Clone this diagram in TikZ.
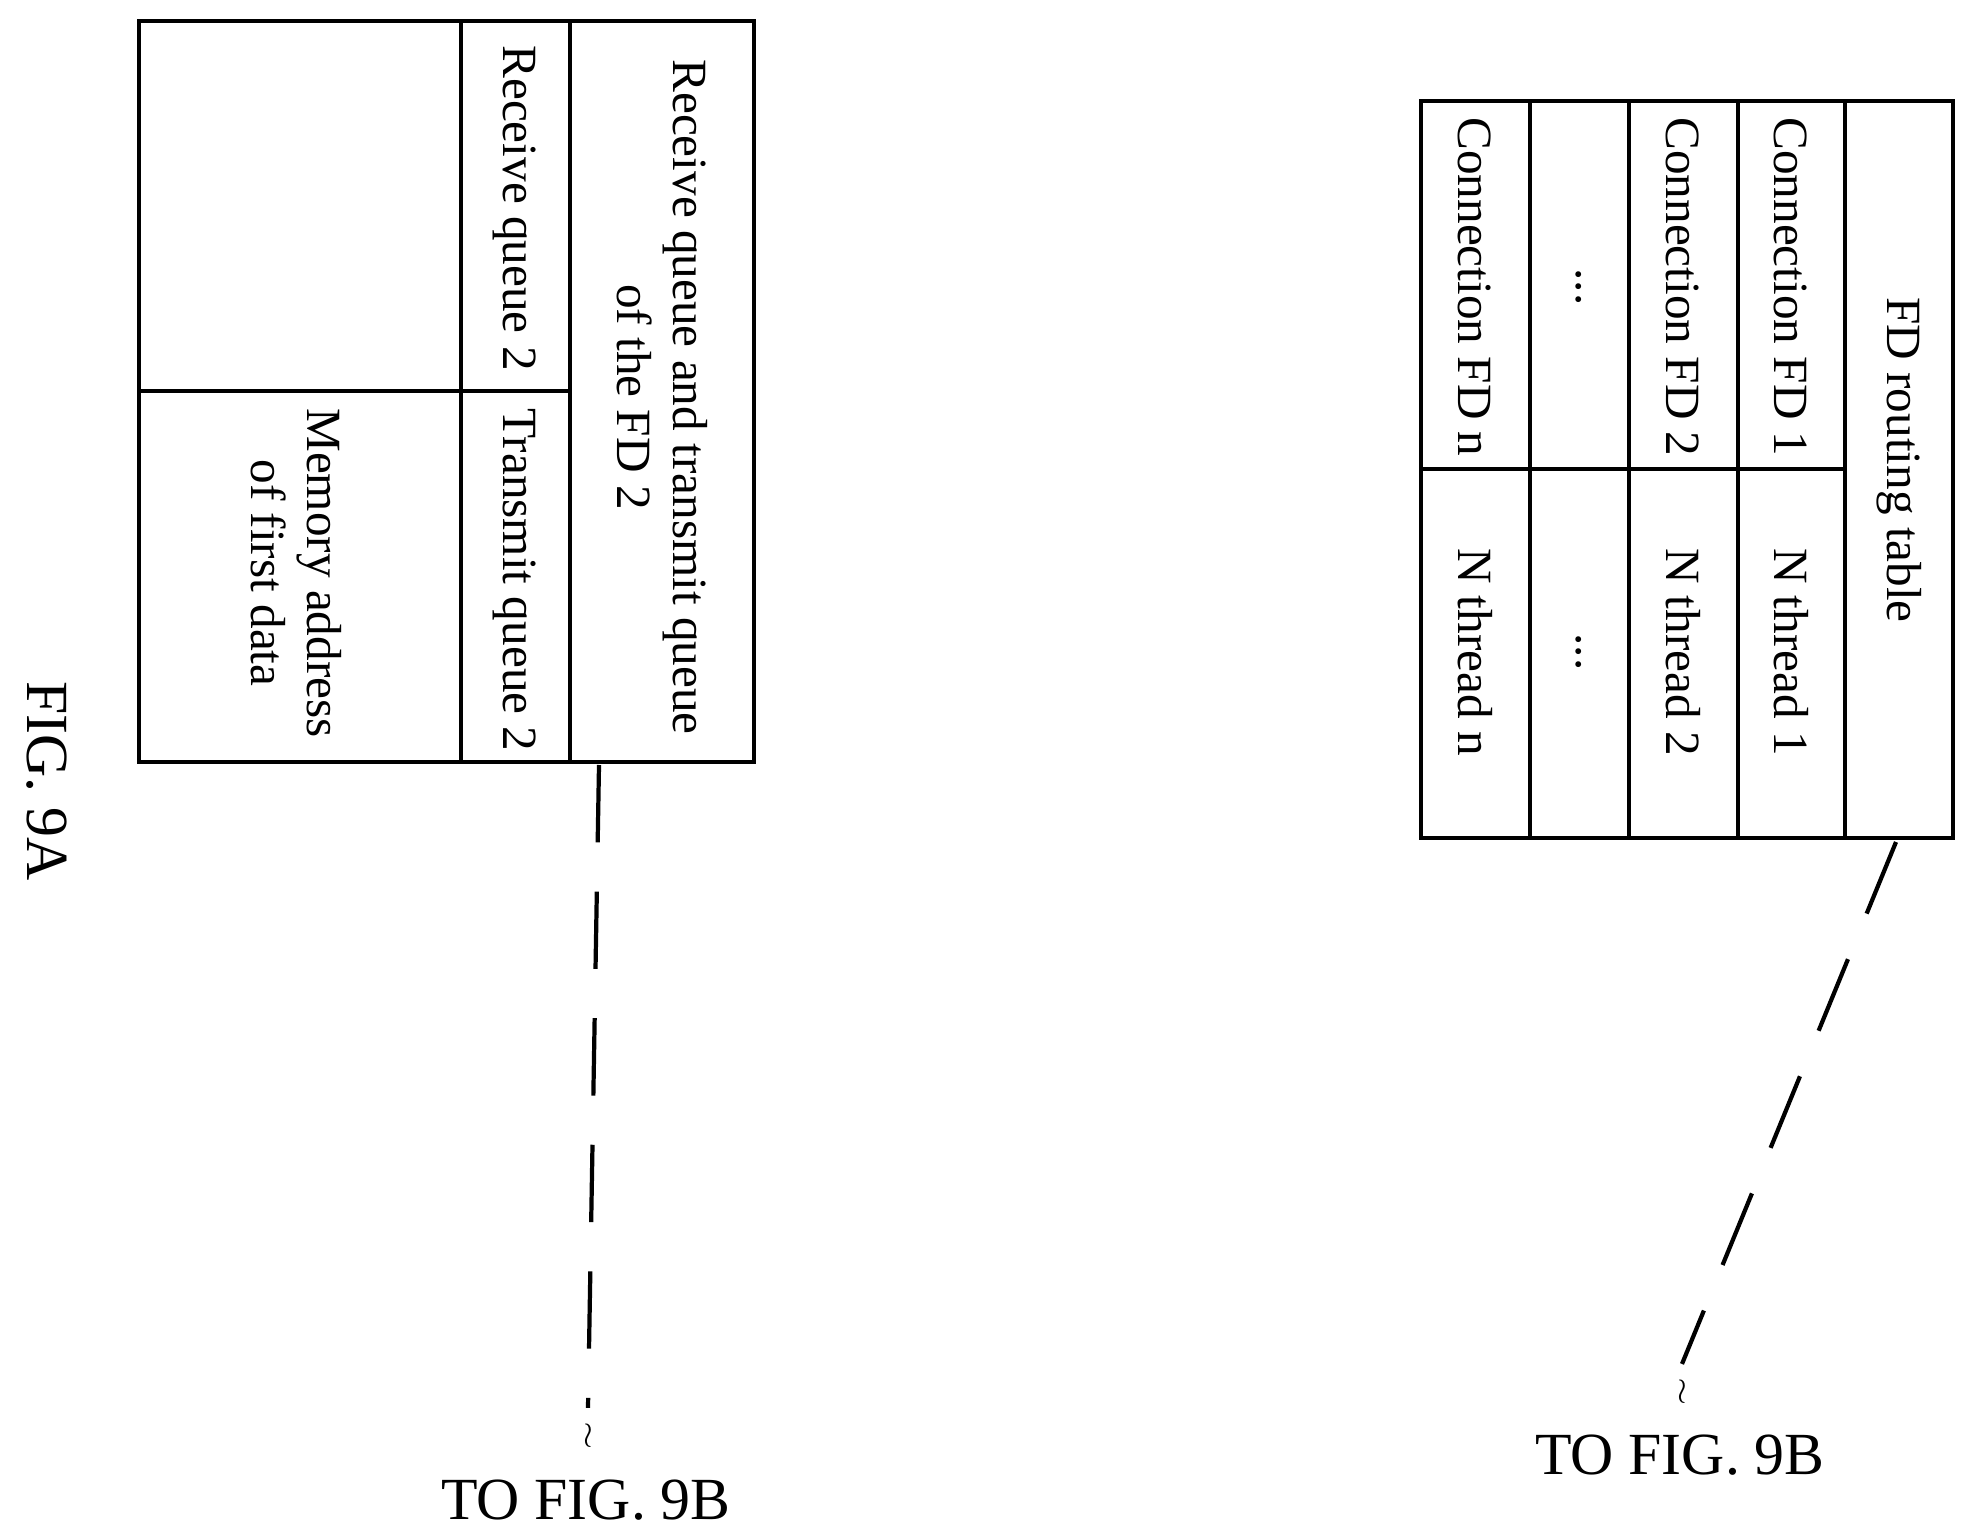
\documentclass[tikz,border=0pt]{standalone}
\usepackage{fontspec}
\setmainfont{Liberation Serif}
\usetikzlibrary{positioning}
\tikzset{
  cell/.style={draw, line width=1.2pt},
  lbl/.style={rotate=-90, align=center, font=\fontsize{14}{16}\selectfont},
  link/.style={line width=1.2pt, dash pattern=on 22pt off 14pt},
}
\begin{document}
\begin{tikzpicture}[x=0.01cm, y=-0.01cm]
    \useasboundingbox (0,0) rectangle (1966,1530);
    % left table
    \draw[cell] (139,21) rectangle (754,762);
    \draw[cell] (461,21) -- (461,762);
    \draw[cell] (570,21) -- (570,762);
    \draw[cell] (139,391) -- (570,391);
    \node[lbl] (fdq) at (662,397) {Receive queue and transmit queue\\of the FD 2};
    \node[lbl] (rq) at (515,208) {Receive queue 2};
    \node[lbl] (tq) at (515,580) {Transmit queue 2};
    \node[lbl] (mem) at (296,573) {Memory address\\of first data};
    \node[rotate=-90, font=\fontsize{17}{19}\selectfont] (fig) at (47,781) {FIG. 9A};

    % right table
    \draw[cell] (1421,101) rectangle (1953,838);
    \foreach \x in {1530,1629,1738,1845}
      \draw[cell] (\x,101) -- (\x,838);
    \draw[cell] (1421,469) -- (1845,469);
    \node[lbl] (rt) at (1899,460) {FD routing table};
    \node[lbl] (c1) at (1791,287) {Connection FD 1};
    \node[lbl] (n1) at (1791,652) {N thread 1};
    \node[lbl] (c2) at (1683,287) {Connection FD 2};
    \node[lbl] (n2) at (1683,652) {N thread 2};
    \node[lbl] (cd) at (1579,287) {...};
    \node[lbl] (nd) at (1579,652) {...};
    \node[lbl] (cn) at (1475,287) {Connection FD n};
    \node[lbl] (nn) at (1475,652) {N thread n};

    % off-page links
    \coordinate (la) at (599,765);
    \coordinate (ra) at (1896,842);
    \node (lt) at (588,1436) {$\wr$};
    \node (rtl) at (1682,1392) {$\wr$};
    \node[font=\fontsize{17}{19}\selectfont] (lto) at (586,1500) {TO FIG. 9B};
    \node[font=\fontsize{17}{19}\selectfont] (rto) at (1680,1455) {TO FIG. 9B};
    \draw[link] (la) -- (lt.north);
    \draw[link] (ra) -- (rtl.north);
\end{tikzpicture}
\end{document}
